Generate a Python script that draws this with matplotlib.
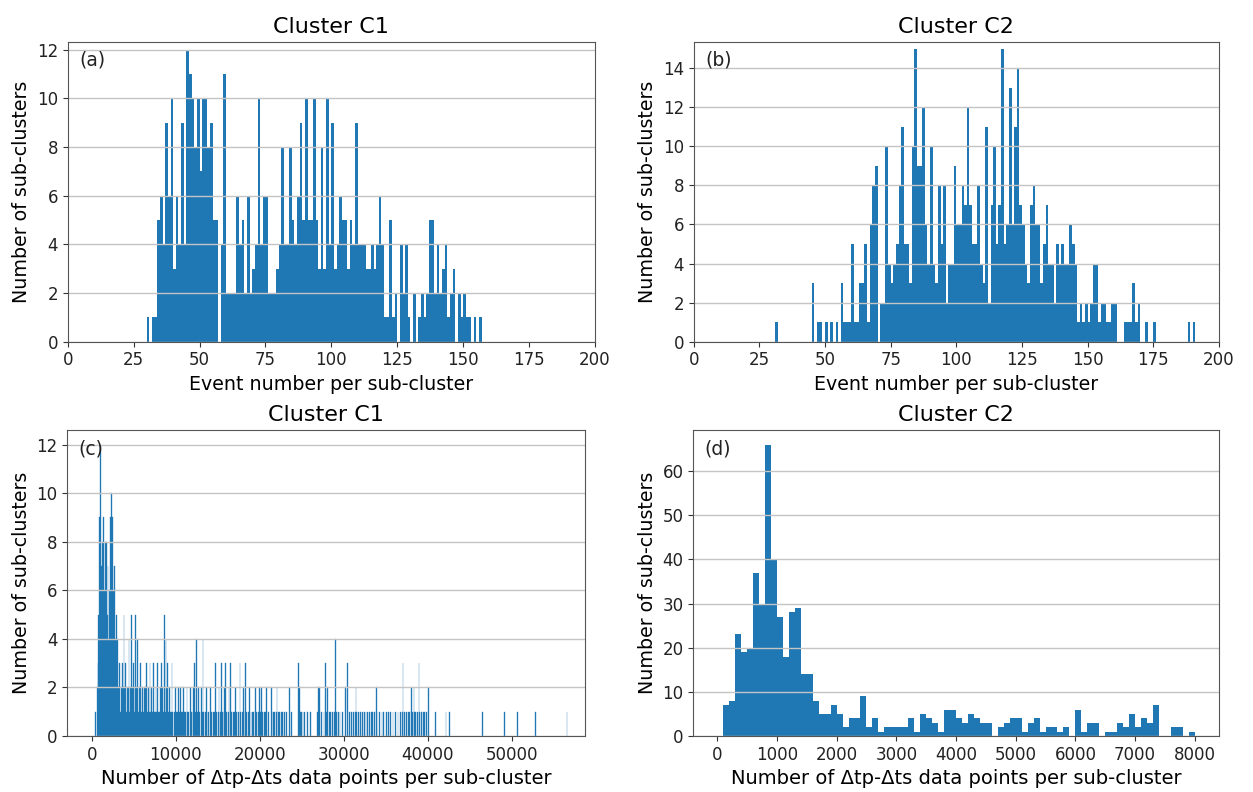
import matplotlib
matplotlib.use('Agg')
import matplotlib.pyplot as plt
import numpy as np

plt.rcParams['font.family'] = ['DejaVu Sans']

BLUE = '#1f77b4'

# ---------------- Panel (a): Cluster C1, event number per sub-cluster (bin width 1)
a_start = 30
a_counts = [1, 0, 1, 1, 5, 6, 4, 9, 6, 10,      # 30-39
            3, 6, 4, 9, 4, 12, 11, 10, 8, 10,   # 40-49
            7, 10, 10, 8, 9, 5, 5, 0, 4, 11,    # 50-59
            2, 2, 2, 2, 6, 4, 5, 2, 6, 2,       # 60-69
            3, 4, 10, 4, 6, 6, 2, 2, 2, 3,      # 70-79
            4, 8, 4, 4, 8, 5, 4, 6, 9, 5,       # 80-89
            10, 5, 5, 10, 5, 3, 8, 3, 10, 4,    # 90-99
            9, 3, 4, 6, 5, 5, 3, 5, 4, 9,       # 100-109
            4, 4, 4, 3, 3, 4, 3, 4, 6, 4,       # 110-119
            1, 1, 5, 1, 2, 0, 4, 2, 4, 1,       # 120-129
            0, 2, 0, 1, 2, 1, 2, 5, 5, 2,       # 130-139
            4, 2, 3, 4, 1, 2, 3, 0, 2, 1,       # 140-149
            2, 1, 1, 0, 1, 0, 1]                # 150-156

# ---------------- Panel (b): Cluster C2, event number per sub-cluster (bin width 1)
b_start = 31
b_counts = [1, 0, 0, 0, 0, 0, 0, 0, 0, 0,       # 31-40
            0, 0, 0, 0, 3, 0, 1, 1, 0, 1,       # 41-50
            0, 1, 0, 1, 0, 3, 1, 1, 1, 5,       # 51-60
            1, 1, 3, 3, 5, 1, 6, 8, 9, 0,       # 61-70
            2, 2, 10, 4, 3, 4, 5, 8, 11, 5,     # 71-80
            5, 3, 10, 15, 9, 9, 12, 6, 4, 10,   # 81-90
            4, 3, 8, 5, 8, 2, 4, 4, 9, 6,       # 91-100
            6, 8, 7, 12, 7, 5, 5, 8, 4, 3,      # 101-110
            11, 2, 7, 10, 5, 7, 15, 5, 6, 13,   # 111-120
            6, 11, 14, 7, 6, 4, 3, 7, 8, 6,     # 121-130
            6, 3, 5, 7, 4, 4, 2, 5, 4, 5,       # 131-140
            4, 4, 6, 5, 4, 1, 2, 1, 2, 1,       # 141-150
            2, 4, 4, 1, 2, 2, 1, 1, 2, 2,       # 151-160
            0, 0, 0, 1, 1, 1, 3, 1, 2, 0,       # 161-170
            0, 1, 0, 0, 1, 0, 0, 0, 0, 0,       # 171-180
            0, 0, 0, 0, 0, 0, 0, 1, 0, 1]       # 181-190

# ---------------- Panel (c): Cluster C1, data points per sub-cluster (bin width 100)
c_width = 100
c_bins = [400, 600, 700, 800, 900, 1000, 1100, 1200, 1300, 1400,
          1500, 1600, 1700, 1800, 1900, 2000, 2100, 2200, 2300, 2400,
          2500, 2600, 2700, 2800, 2900, 3000, 3100,
          3200, 3300, 3400, 3500, 3600, 3700, 3800, 3900, 4000, 4100,
          4200, 4300, 4400, 4500, 4600, 4700, 4800, 4900, 5000, 5100,
          5200, 5300, 5400, 5500, 5600, 5700, 5800, 5900, 6000, 6100,
          6200, 6300, 6400, 6500, 6600, 6700, 6800, 6900, 7000, 7100,
          7200, 7300, 7400, 7500, 7600, 7700, 7800, 7900, 8000, 8100,
          8200, 8300, 8400, 8500, 8600, 8700, 8800, 8900, 9000, 9100,
          9200, 9300, 9400, 9500, 9600, 9800, 9900,
          10000, 10200, 10300, 10400, 10500, 10600, 10800, 10900, 11000, 11100,
          11300, 11400, 11500, 11700, 11800, 12000, 12100, 12200, 12300, 12400,
          12500, 12700, 12800, 13000, 13100, 13200, 13300, 13500, 13600, 13800,
          13900, 14100, 14200, 14400, 14600, 14700, 14800, 15000, 15100, 15300,
          15400, 15500, 15700, 15800, 15900, 16000, 16200, 16300, 16500, 16600,
          16800, 16900, 17100, 17200, 17400, 17600, 17700, 17900, 18000, 18200,
          18300, 18400, 18600, 18700, 18900, 19100, 19200, 19400, 19600, 19800,
          19900,
          20000, 20200, 20300, 20500, 20600, 20800, 21000, 21300, 21400, 21600,
          21700, 21900, 22000, 22200, 22300, 22500, 22700, 22900, 23100, 23500,
          23700, 24600, 24700, 24800, 24900, 25100, 25300, 25600, 26000, 26800,
          26900, 27100, 27300, 27600, 27800, 27900, 28000, 28200, 28400, 28600,
          28800, 29000, 29100, 29300, 29500, 29800, 30200, 30400, 30600, 30900,
          31100, 31300, 31400, 31500, 31700, 31900, 32200, 32400, 32600, 32800,
          33000, 33200, 33400, 33600, 33800, 33900, 34200, 34500, 34700, 35000,
          35300, 35500, 35800, 36100, 36400, 36700, 36900, 37000, 37200, 37400,
          37600, 37800, 38000, 38100, 38300, 38400, 38500, 38700, 38900, 39000,
          39200, 39400, 39600, 39800, 40000, 40900, 42100, 42500, 46500, 49100,
          50600, 52800, 56500]
c_counts = [1, 2, 3, 5, 9, 12, 7, 8, 6, 9,
            6, 8, 8, 5, 7, 4, 6, 9, 10, 9,
            6, 5, 7, 4, 5, 4, 2,
            2, 3, 1, 2, 3, 2, 5, 2, 3, 1,
            2, 2, 4, 1, 2, 5, 2, 3, 1, 2,
            5, 2, 4, 1, 2, 2, 3, 1, 2, 1,
            2, 1, 2, 3, 1, 2, 1, 3, 1, 2,
            1, 3, 1, 1, 2, 1, 3, 1, 1, 2,
            1, 3, 2, 1, 5, 1, 4, 2, 3, 1,
            2, 1, 1, 3, 1, 1, 2,
            1, 1, 2, 1, 2, 1, 1, 2, 1, 1,
            2, 1, 1, 2, 1, 1, 2, 3, 1, 4,
            1, 2, 1, 2, 1, 4, 1, 1, 2, 1,
            1, 2, 1, 1, 1, 3, 1, 1, 2, 1,
            3, 1, 1, 2, 3, 1, 1, 2, 3, 1,
            1, 1, 2, 1, 1, 3, 1, 1, 2, 1,
            3, 1, 1, 2, 1, 1, 1, 2, 1, 1,
            2,
            1, 2, 1, 1, 1, 2, 1, 2, 1, 1,
            1, 1, 2, 1, 1, 1, 1, 1, 1, 2,
            1, 3, 2, 1, 1, 1, 1, 1, 1, 1,
            2, 2, 1, 1, 3, 1, 2, 1, 1, 1,
            1, 4, 1, 1, 1, 1, 2, 3, 1, 1,
            1, 1, 2, 1, 1, 1, 1, 1, 1, 1,
            1, 1, 1, 1, 2, 1, 1, 1, 1, 1,
            1, 1, 1, 1, 1, 1, 1, 3, 1, 1,
            1, 1, 2, 1, 2, 1, 1, 1, 3, 1,
            1, 1, 1, 1, 2, 1, 1, 1, 1, 1,
            1, 1, 1]

# ---------------- Panel (d): Cluster C2, data points per sub-cluster (bin width 100 from 0)
d_width = 100
d_counts = [0, 7, 8, 23, 19, 20, 37, 30, 66, 40,      # 0-900
            27, 18, 28, 29, 14, 14, 8, 5, 5, 7,       # 1000-1900
            5, 2, 4, 4, 9, 2, 4, 1, 2, 2,             # 2000-2900
            2, 2, 4, 1, 5, 4, 3, 1, 6, 6,             # 3000-3900
            4, 3, 5, 4, 3, 3, 0, 2, 3, 4,             # 4000-4900
            4, 1, 3, 4, 1, 2, 2, 1, 2, 0,             # 5000-5900
            6, 1, 3, 3, 0, 1, 1, 3, 2, 5,             # 6000-6900
            2, 4, 3, 7, 0, 0, 2, 2, 0, 1]             # 7000-7900

titles = ['Cluster C1', 'Cluster C2', 'Cluster C1', 'Cluster C2']
panel_tags = ['(a)', '(b)', '(c)', '(d)']
xlabel_top = 'Event number per sub-cluster'
xlabel_bottom = 'Number of Δtp-Δts data points per sub-cluster'
ylabel = 'Number of sub-clusters'

fig = plt.figure(figsize=(12.53, 7.92), dpi=100)
axa = fig.add_axes([0.0540, 0.5686, 0.4209, 0.3786])
axb = fig.add_axes([0.5536, 0.5686, 0.4193, 0.3786])
axc = fig.add_axes([0.0537, 0.0707, 0.4132, 0.3864])
axd = fig.add_axes([0.5533, 0.0707, 0.4193, 0.3864])
axes = [axa, axb, axc, axd]

axa.bar(np.arange(a_start, a_start + len(a_counts)), a_counts, width=1,
        align='edge', color=BLUE, linewidth=0)
axb.bar(np.arange(b_start, b_start + len(b_counts)), b_counts, width=1,
        align='edge', color=BLUE, linewidth=0)
axc.bar(c_bins, c_counts, width=c_width, align='edge', color=BLUE,
        edgecolor=BLUE, linewidth=0.25)
axd.bar(np.arange(len(d_counts)) * d_width, d_counts, width=d_width,
        align='edge', color=BLUE, linewidth=0)

for ax in (axa, axb):
    ax.set_xlim(0, 200)
    ax.set_xticks(np.arange(0, 201, 25))
    ax.set_xlabel(xlabel_top, fontsize=13.7)
axa.set_yticks(np.arange(0, 13, 2))
axa.set_ylim(0, 12.33)
axb.set_yticks(np.arange(0, 15, 2))
axb.set_ylim(0, 15.35)

axc.set_xlim(-2900, 58700)
axc.set_xticks(np.arange(0, 50001, 10000))
axc.set_yticks(np.arange(0, 13, 2))
axc.set_ylim(0, 12.6)
axc.set_xlabel(xlabel_bottom, fontsize=14)

axd.set_xlim(-400, 8400)
axd.set_xticks(np.arange(0, 8001, 1000))
axd.set_yticks(np.arange(0, 61, 10))
axd.set_ylim(0, 69.3)
axd.set_xlabel(xlabel_bottom, fontsize=14)

for ax, t, tag in zip(axes, titles, panel_tags):
    ax.set_title(t, fontsize=16, pad=6.5)
    ax.set_ylabel(ylabel, fontsize=13.7)
    ax.yaxis.grid(True, color='#c4c4c4', linewidth=1.0)
    ax.tick_params(labelsize=12, color='#333333', labelcolor='#222222')
    for s in ax.spines.values():
        s.set_color('#555555')
    ax.text(0.022, 0.97, tag, transform=ax.transAxes, fontsize=13.5,
            ha='left', va='top', color='#222222')

fig.savefig('out.png', dpi=100)
